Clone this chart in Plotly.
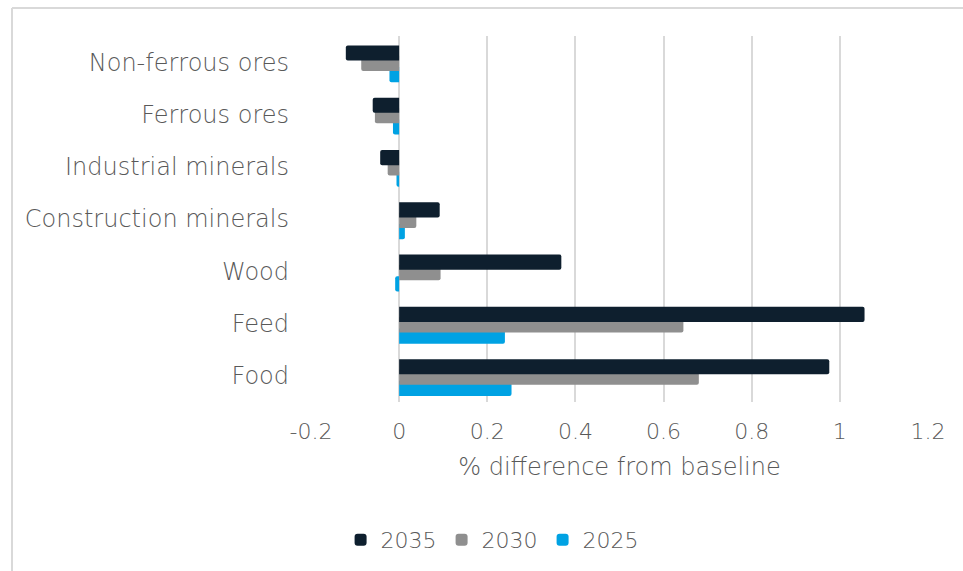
import plotly.graph_objects as go

categories = ["Food", "Feed", "Wood", "Construction minerals",
              "Industrial minerals", "Ferrous ores", "Non-ferrous ores"]
v2035 = [0.976, 1.056, 0.368, 0.092, -0.043, -0.060, -0.121]
v2030 = [0.680, 0.645, 0.094, 0.039, -0.026, -0.055, -0.086]
v2025 = [0.255, 0.240, -0.009, 0.013, -0.006, -0.014, -0.022]
tick_vals = [-0.2, 0, 0.2, 0.4, 0.6, 0.8, 1.0, 1.2]
tick_text = ["-0.2", "0", "0.2", "0.4", "0.6", "0.8", "1", "1.2"]

FONT = "DejaVu Sans"
TXT = "#595959"
WT = 200
W = 0.29

fig = go.Figure()
# draw order: 2025 first (bottom), then 2030, then 2035 on top
fig.add_trace(go.Bar(y=categories, x=v2025, orientation="h", name="2025",
                     marker=dict(color="#00a2e3", cornerradius=2, line=dict(width=0)),
                     width=W, offset=-0.385, legendrank=3))
fig.add_trace(go.Bar(y=categories, x=v2030, orientation="h", name="2030",
                     marker=dict(color="#8f8f8f", cornerradius=2, line=dict(width=0)),
                     width=W, offset=-0.17, legendrank=2))
fig.add_trace(go.Bar(y=categories, x=v2035, orientation="h", name="2035",
                     marker=dict(color="#0e1f2e", cornerradius=2, line=dict(width=0)),
                     width=W, offset=0.03, legendrank=1))

L, R, T, B = 311, 35, 36, 169
pw = 963 - L - R
ph = 571 - T - B

def fnt(size):
    return dict(family=FONT, size=size, color=TXT, weight=WT)

fig.update_layout(
    width=963, height=571,
    margin=dict(l=L, r=R, t=T, b=B, pad=0),
    barmode="overlay",
    plot_bgcolor="white", paper_bgcolor="white",
    font=fnt(22),
    showlegend=True,
    legend=dict(orientation="h", xref="container", yref="container",
                x=0.511, y=1 - 540 / 571, xanchor="center", yanchor="middle",
                font=fnt(22), traceorder="normal",
                itemwidth=30, tracegroupgap=0),
    xaxis=dict(range=[-0.2, 1.2], tickvals=tick_vals, ticktext=tick_text,
               showgrid=True, gridcolor="#d9d9d9", gridwidth=2,
               zeroline=True, zerolinecolor="#d9d9d9", zerolinewidth=2,
               showline=False, ticks="", ticklabelstandoff=14,
               tickfont=fnt(22),
               title=dict(text="% difference from baseline", standoff=15,
                          font=fnt(24))),
    yaxis=dict(type="category", categoryorder="array", categoryarray=categories,
               range=[-0.5, 6.5], showgrid=False, zeroline=False, showline=False,
               ticks="", ticklabelstandoff=21,
               tickfont=fnt(24)),
)

# chart border (light gray frame, partially outside the page)
x0 = (12 - L) / pw
ytop = (ph + T - 8) / ph
fig.add_shape(type="line", xref="paper", yref="paper",
              x0=x0, x1=1.2, y0=ytop, y1=ytop,
              line=dict(color="#d9d9d9", width=2))
fig.add_shape(type="line", xref="paper", yref="paper",
              x0=x0, x1=x0, y0=ytop, y1=-0.6,
              line=dict(color="#d9d9d9", width=2))

fig.write_html("out.html")
